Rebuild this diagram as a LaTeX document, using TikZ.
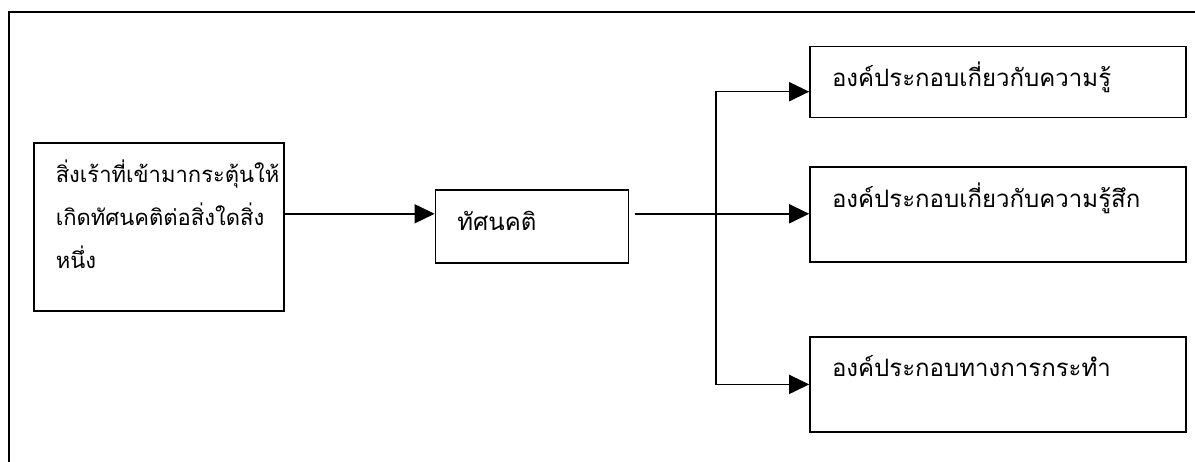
\documentclass[tikz,border=0pt]{standalone}
\usepackage{fontspec}
\newfontfamily\thaifont[Script=Thai]{Loma}
\usepackage{tikz}
\usetikzlibrary{arrows.meta, positioning}

\begin{document}
\begin{tikzpicture}[
    x=1pt, y=-1pt,
    box/.style={rectangle, draw, line width=1.6pt, inner xsep=22pt, inner ysep=0pt, text height=40pt, align=left, anchor=center, font=\thaifont\fontsize{24}{43}\selectfont},
    arrow/.style={-{Triangle[length=20pt, width=19pt]}, line width=1.6pt}
]
\useasboundingbox (0,0) rectangle (1195,462);

% Frame
\draw[line width=2.6pt] (9,462) -- (9,12) -- (1195,12);

% Stimulus
\node[box, anchor=north west, text width=206pt, text depth=128pt, font=\thaifont\fontsize{22}{43}\selectfont] (stim) at (33,142) {สิ่งเร้าที่เข้ามากระตุ้นให้\\เกิดทัศนคติต่อสิ่งใดสิ่ง\\หนึ่ง};

% Attitude
\node[box, text width=149pt, text depth=33pt, right=150pt of stim] (att) {ทัศนคติ};

% Components
\node[box, text width=332pt, text depth=55pt, right=180pt of att, yshift=12pt] (affect) {องค์ประกอบเกี่ยวกับความรู้สึก};
\node[box, text width=332pt, text depth=31pt, above=48pt of affect] (cogn) {องค์ประกอบเกี่ยวกับความรู้};
\node[box, text width=332pt, text depth=55pt, below=73pt of affect] (behav) {องค์ประกอบทางการกระทำ};

% Arrows
\coordinate (out) at ([xshift=6pt, yshift=13pt]att.east);
\coordinate (split) at ([xshift=81pt]out);
\draw[arrow] ([yshift=13pt]stim.east) -- ([yshift=13pt]att.west);
\draw[line width=1.6pt] (out) -- (split);
\draw[arrow] (split) -- (split -| affect.west);
\draw[arrow] (split) |- ([yshift=-9.5pt]cogn.west);
\draw[arrow] (split) |- (behav.west);

\end{tikzpicture}
\end{document}
